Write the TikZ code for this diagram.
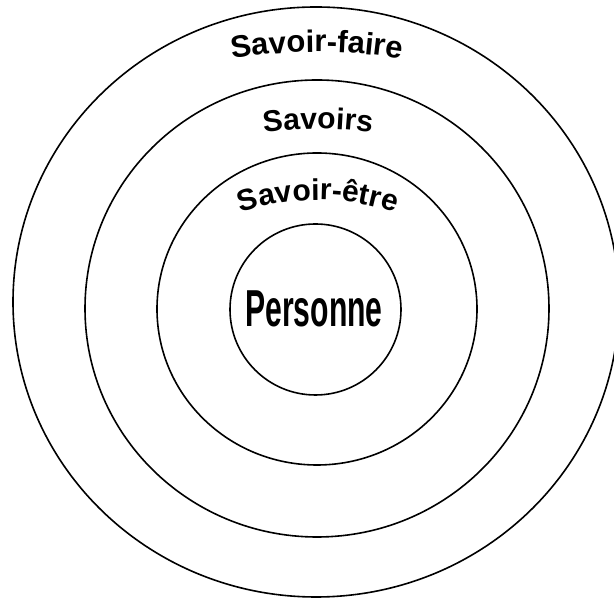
\documentclass[tikz,border=0pt]{standalone}
\usepackage{fontspec}
\setmainfont{Liberation Sans}
\usetikzlibrary{decorations.text}

\begin{document}
\begin{tikzpicture}[
    x=1pt, y=1pt,
    ring/.style = {draw=black, line width=1.6pt},
    arctext/.style = {decorate, decoration={text along path, text align=center, text={#1}}}
  ]
  \clip (0,0) rectangle (614,599);

  % --- centres ---
  \coordinate (cOut) at (316,297);
  \coordinate (cKnow) at (317,290.5);
  \coordinate (cBe) at (317,290);
  \coordinate (cPers) at (315.5,289.5);

  % --- rings ---
  \draw[ring] (cOut) ellipse [x radius=303pt, y radius=295pt];
  \draw[ring] (cKnow) ellipse [x radius=232pt, y radius=228.5pt];
  \draw[ring] (cBe) ellipse [x radius=160pt, y radius=156pt];
  \draw[ring] (cPers) circle [radius=85.5pt];

  % --- curved labels ---
  \path[arctext={|\bfseries\fontsize{31}{31}\selectfont|Savoir-faire}]
       (317,27) ++(105:520pt) arc[start angle=105, end angle=75, radius=520pt];
  \path[arctext={|\bfseries\fontsize{30}{30}\selectfont|Savoirs}]
       (318,90) ++(100:380pt) arc[start angle=100, end angle=80, radius=380pt];
  \path[arctext={|\bfseries\fontsize{30}{30}\selectfont|Savoir-être}]
       (318,159) ++(125:240pt) arc[start angle=125, end angle=55, radius=240pt];

  % --- centre label ---
  \node[inner sep=0pt, font=\bfseries\fontsize{52}{52}\selectfont] (pers) at (314,290.5)
       {\scalebox{0.58}[1]{Personne}};

\end{tikzpicture}
\end{document}
